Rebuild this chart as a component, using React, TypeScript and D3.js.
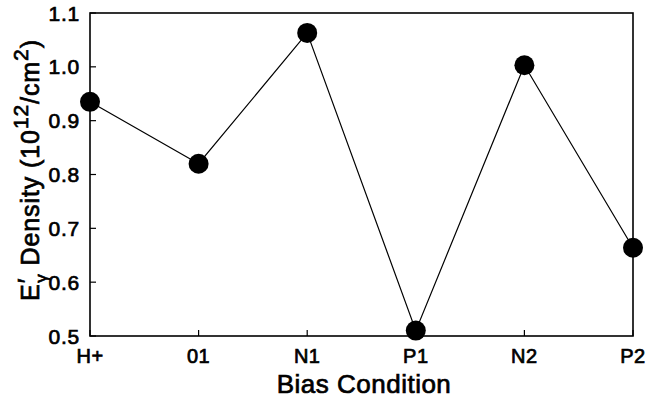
import * as d3 from "d3";

const categories = ["H+", "01", "N1", "P1", "N2", "P2"];
const densities = [0.935, 0.82, 1.063, 0.51, 1.003, 0.664];
const yTicks = [0.5, 0.6, 0.7, 0.8, 0.9, 1.0, 1.1];

export default function App() {
    const width = 657;
    const height = 399;
    const marginLeft = 90;
    const marginRight = 24;
    const marginTop = 13;
    const marginBottom = 63;
    const font = "Liberation Sans, Arial, sans-serif";
    // regular weight plus a thin stroke, closer to the scanned lettering than bold
    const ink = { fill: "black", stroke: "black", strokeWidth: 0.7 };

    const x = d3.scalePoint()
        .domain(categories)
        .range([marginLeft, width - marginRight]);

    const y = d3.scaleLinear()
        .domain([0.5, 1.1])
        .range([height - marginBottom, marginTop]);

    const line = d3.line<number>()
        .x((_, i) => x(categories[i]) ?? 0)
        .y(d => y(d));

    const bottom = height - marginBottom;
    const right = width - marginRight;

    return (
        <svg width={width} height={height} style={{ position: "absolute", left: 0, top: 0 }}>
            <rect width={width} height={height} fill="white" />
            <rect x={marginLeft} y={marginTop} width={right - marginLeft} height={bottom - marginTop}
                fill="none" stroke="black" strokeWidth={1.6} />
            {/* y ticks, pointing in */}
            {yTicks.map(t => (
                <g key={t}>
                    <line x1={marginLeft} x2={marginLeft + 6} y1={y(t)} y2={y(t)} stroke="black" strokeWidth={1.2} />
                    <text x={80} y={y(t)} dy="0.36em" textAnchor="end" fontFamily={font}
                        fontSize={21} letterSpacing={0.8} {...ink}>
                        {t.toFixed(1)}
                    </text>
                </g>
            ))}
            {/* x ticks */}
            {categories.map(c => (
                <g key={c}>
                    <line x1={x(c)} x2={x(c)} y1={bottom} y2={bottom - 6} stroke="black" strokeWidth={1.2} />
                    <text x={x(c)} y={363} textAnchor="middle" fontFamily={font}
                        fontSize={20} letterSpacing={0.5} {...ink}>
                        {c}
                    </text>
                </g>
            ))}
            <path d={line(densities) ?? ""} fill="none" stroke="black" strokeWidth={1.2} />
            {densities.map((d, i) => (
                <circle key={categories[i]} cx={x(categories[i])} cy={y(d)} r={10} fill="black" />
            ))}
            <text x={364} y={393} textAnchor="middle" fontFamily={font}
                fontSize={26} letterSpacing={0.5} {...ink}>
                Bias Condition
            </text>
            <text transform={`translate(39, 170) rotate(-90)`} textAnchor="middle"
                fontFamily={font} fontSize={25} letterSpacing={0.9} {...ink}>
                E<tspan dy={-3}>′</tspan><tspan fontSize={17} dy={11} dx={-5}>γ</tspan>
                <tspan dy={-8}> Density (10</tspan>
                <tspan fontSize={21} dy={-11}>12</tspan>
                <tspan dy={11}>/cm</tspan>
                <tspan fontSize={21} dy={-11}>2</tspan>
                <tspan dy={11}>)</tspan>
            </text>
        </svg>
    );
}
